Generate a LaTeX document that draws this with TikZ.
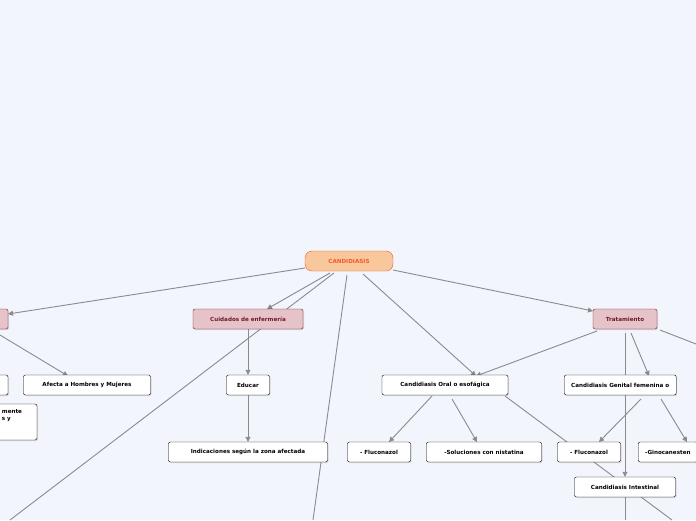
\documentclass[tikz,border=0pt]{standalone}
\usepackage{fontspec}
\setsansfont{DejaVu Sans}
\usepackage{tikz}
\usetikzlibrary{arrows.meta}
\usetikzlibrary{shadows}
\pgfdeclarelayer{bg}
\pgfdeclarelayer{edges}
\pgfsetlayers{bg,edges,main}
\definecolor{bgc}{HTML}{F3F5FD}
\definecolor{linec}{HTML}{8A8A90}
\definecolor{rootfill}{HTML}{F8C79B}
\definecolor{rootline}{HTML}{F05A28}
\definecolor{subfill}{HTML}{E6C3C9}
\definecolor{subline}{HTML}{6E1A2A}
\tikzset{
  root/.style={rectangle, rounded corners=7pt, draw=rootline, fill=rootfill, text=rootline,
    font=\fontsize{5.6}{7}\selectfont\bfseries\sffamily, minimum height=20pt, inner sep=2pt},
  sub/.style={rectangle, rounded corners=2pt, draw=subline, fill=subfill, text=subline,
    font=\fontsize{5.6}{7}\selectfont\bfseries\sffamily, minimum height=20pt, inner sep=2pt,
    drop shadow={opacity=0.25, shadow xshift=1pt, shadow yshift=-1pt}},
  leaf/.style={rectangle, rounded corners=2pt, draw=black, fill=white,
    font=\fontsize{5.6}{7}\selectfont\bfseries\sffamily, minimum height=20pt, inner sep=2pt,
    drop shadow={opacity=0.25, shadow xshift=1pt, shadow yshift=-1pt}},
  link/.style={draw=linec, line width=0.9pt, -{Triangle[length=5pt,width=5pt]}},
  plain/.style={draw=linec, line width=0.9pt}
}
\begin{document}
\begin{tikzpicture}[x=1pt,y=-1pt]
\begin{pgfonlayer}{bg}
\fill[bgc] (0,0) rectangle (696,520);
\end{pgfonlayer}
\useasboundingbox (0,0) rectangle (696,520);
\clip (0,0) rectangle (696,520);
% nodes
\node[root, minimum width=88pt] (cand) at (349,261) {CANDIDIASIS};
\node[sub, minimum width=60pt] (left) at (-22,319) {};
\node[sub, minimum width=110pt] (cuid) at (248,319) {Cuidados de enfermería};
\node[sub, minimum width=64pt] (trat) at (625,319) {Tratamiento};
\node[leaf, minimum width=40pt] (lefta) at (-12,385) {};
\node[leaf, minimum width=127pt] (afecta) at (87,385) {Afecta a Hombres y Mujeres};
\node[leaf, minimum width=70pt, minimum height=36pt, align=left] (leftb) at (2,422) {\hspace*{20pt}mente\\\hspace*{20pt}s y\\[6pt]};
\node[leaf, minimum width=43pt] (educ) at (248,385) {Educar};
\node[leaf, minimum width=159pt] (indic) at (248,452) {Indicaciones según la zona afectada};
\node[leaf, minimum width=126pt] (oral) at (445,385) {Candidiasis Oral o esofágica};
\node[leaf, inner xsep=7pt, anchor=west] (genit) at (564,385) {Candidiasis Genital femenina o\hspace{40pt}};
\node[leaf, minimum width=63pt] (fluA) at (379,452) {- Fluconazol};
\node[leaf, minimum width=115pt] (solu) at (484,452) {-Soluciones con nistatina};
\node[leaf, minimum width=63pt] (fluB) at (589,452) {- Fluconazol};
\node[leaf, inner xsep=7pt, anchor=west] (gino) at (638,452) {-Ginocanesten\hspace{20pt}};
\node[leaf, minimum width=101pt] (intes) at (625,487) {Candidiasis Intestinal};
% free ends
\coordinate (e1) at (10,520);
\coordinate (e2) at (313,520);
\coordinate (e3) at (696,344);
\coordinate (e4) at (672,520);
\coordinate (e5) at (625,520);
% connectors
\begin{pgfonlayer}{edges}
\draw[link] (305,268) -- (8,314);
\draw[link] (330,273) -- (267,309);
\draw[plain] (334,273) -- (e1);
\draw[plain] (347,275) -- (e2);
\draw[link] (363,274) -- (476,376);
\draw[link] (393,270) -- (593,311);
\draw[link] (0,335) -- (68,376);
\draw[link] (cuid) -- (educ);
\draw[link] (educ) -- (indic);
\draw[link] (597,331) -- (476,376);
\draw[link] (631,333) -- (649,376);
\draw[link] (625,333) -- (intes);
\draw[plain] (660,330) -- (e3);
\draw[link] (432,396) -- (389,442);
\draw[link] (452,399) -- (477,442);
\draw[plain] (505,396) -- (e4);
\draw[link] (641,399) -- (599,442);
\draw[link] (661,399) -- (687,442);
\draw[plain] (intes) -- (e5);
\end{pgfonlayer}
\end{tikzpicture}
\end{document}
